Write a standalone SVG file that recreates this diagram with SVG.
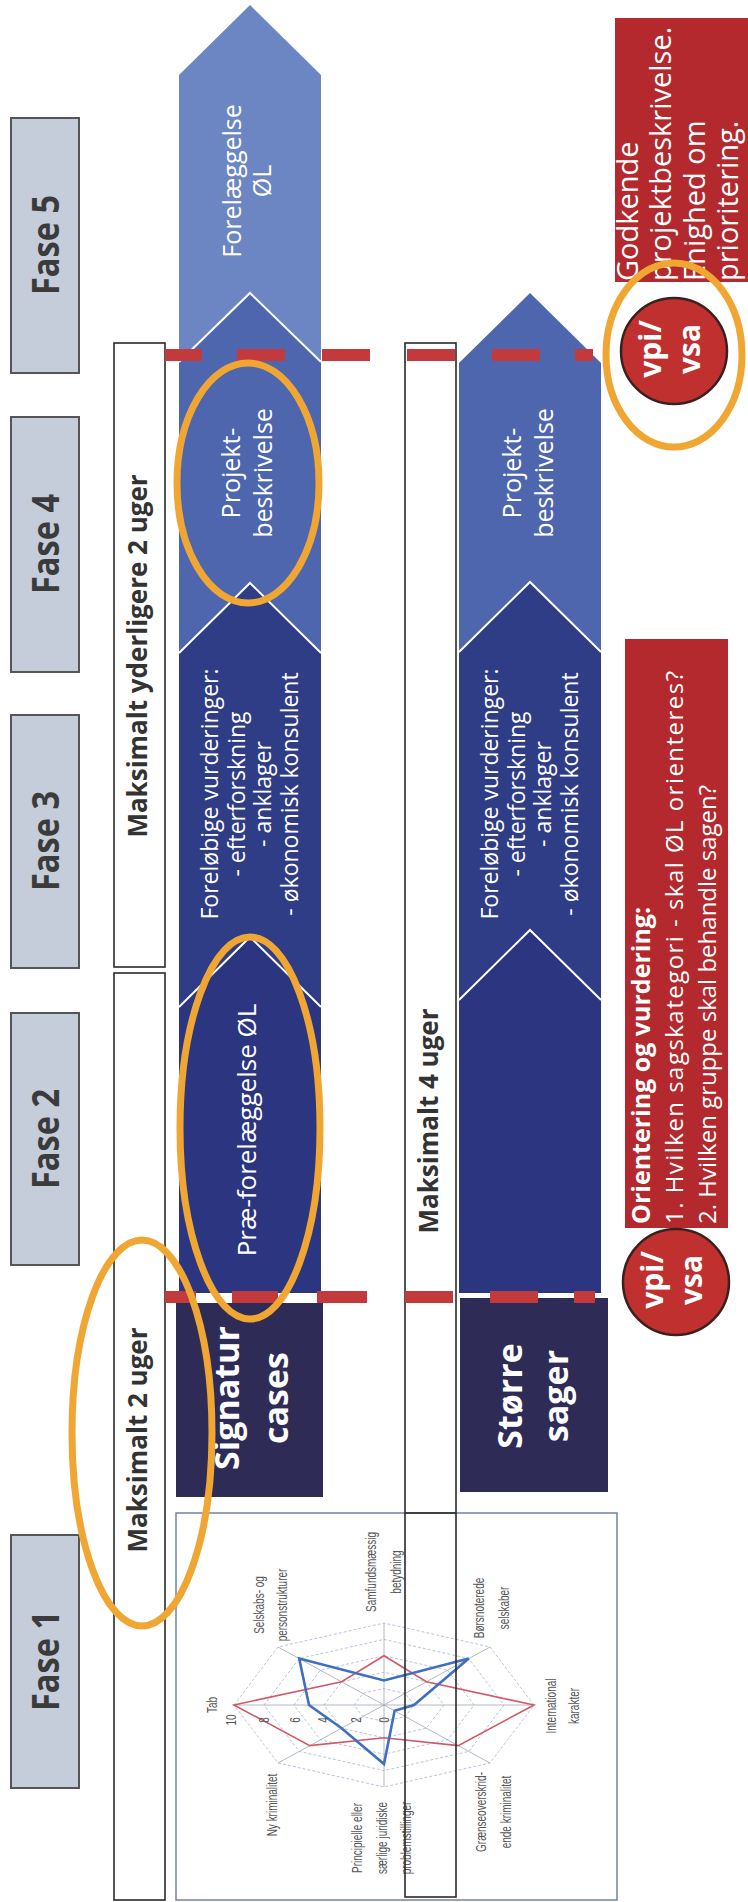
<svg xmlns="http://www.w3.org/2000/svg" width="748" height="1902" viewBox="0 0 748 1902">
<style>
text{font-family:'Open Sans','Liberation Sans',sans-serif}
.fase rect{fill:#c5ccda;stroke:#555;stroke-width:2}
.fase text{font-weight:bold;font-size:37px;fill:#3b3b3b;text-anchor:middle}
.lanebox{fill:#fff;stroke:#2a2a2a;stroke-width:1.6}
.lt{font-weight:bold;font-size:26px;fill:#333;text-anchor:middle}
.w{fill:#fff}
.c{text-anchor:middle}
.edge{fill:none;stroke:#fff;stroke-width:2}
.dash{fill:#c23a3c}
.orange{fill:none;stroke:#f0a632;stroke-width:7}
.redbox{fill:#b3292d}
.vc{fill:#c0302f;stroke:#3b2020;stroke-width:2.5}
.vt{font-weight:bold;font-size:30px;fill:#fff;text-anchor:middle}
.grid{fill:none;stroke:#b0bcd8;stroke-width:0.9;stroke-dasharray:3 2}
.spoke{stroke:#a0a8b8;stroke-width:0.8}
.cl{font-family:'Liberation Sans',Arial,sans-serif;font-size:10px;fill:#555;text-anchor:middle}
</style>

<g id="fase5" class="fase"><rect x="11" y="118" width="68" height="255"/><text textLength="100" lengthAdjust="spacingAndGlyphs" transform="translate(59,245) rotate(-90)">Fase 5</text></g>
<g id="fase4" class="fase"><rect x="11" y="417" width="68" height="255"/><text textLength="100" lengthAdjust="spacingAndGlyphs" transform="translate(59,544) rotate(-90)">Fase 4</text></g>
<g id="fase3" class="fase"><rect x="11" y="715" width="68" height="253"/><text textLength="100" lengthAdjust="spacingAndGlyphs" transform="translate(59,841) rotate(-90)">Fase 3</text></g>
<g id="fase2" class="fase"><rect x="11" y="1013" width="68" height="252"/><text textLength="100" lengthAdjust="spacingAndGlyphs" transform="translate(59,1139) rotate(-90)">Fase 2</text></g>
<g id="fase1" class="fase"><rect x="11" y="1535" width="68" height="253"/><text textLength="100" lengthAdjust="spacingAndGlyphs" transform="translate(59,1661) rotate(-90)">Fase 1</text></g>

<g id="box-yderligere"><rect class="lanebox" x="114" y="343" width="51" height="624"/><text class="lt" transform="translate(147,656) rotate(-90)">Maksimalt yderligere 2 uger</text></g>
<g id="box-2uger"><rect class="lanebox" x="114" y="973" width="51" height="927"/><text class="lt" transform="translate(147,1440) rotate(-90)">Maksimalt  2 uger</text></g>
<g id="box-4uger"><rect class="lanebox" x="405" y="343" width="51" height="1554"/><text class="lt" transform="translate(438,1121) rotate(-90)">Maksimalt 4 uger</text></g>

<g id="lane-signatur">
<polygon points="179,75 250,5 321,75 321,365 179,365" fill="#6b86c3"/>
<polygon points="179,362 250,293 321,362 321,655 179,655" fill="#4d66ae"/>
<polyline class="edge" points="179,362 250,293 321,362"/>
<polygon points="179,653 250,583 321,653 321,1009 179,1009" fill="#2f3c86"/>
<polyline class="edge" points="179,653 250,583 321,653"/>
<polygon points="179,1007 250,937 321,1007 321,1293 179,1293" fill="#2c3580"/>
<polyline class="edge" points="179,1007 250,937 321,1007"/>
<text class="w c" font-size="25" transform="translate(241,181) rotate(-90)"><tspan x="0" y="0">Forelæggelse</tspan><tspan x="0" dy="30">ØL</tspan></text>
<text class="w c" font-size="25" transform="translate(240,473) rotate(-90)"><tspan x="0" y="0">Projekt-</tspan><tspan x="0" dy="32">beskrivelse</tspan></text>
<text class="w c" font-size="23" transform="translate(218,794) rotate(-90)"><tspan x="0" y="0">Foreløbige vurderinger:</tspan><tspan x="0" dy="26.7">- efterforskning</tspan><tspan x="0" dy="26.7">- anklager</tspan><tspan x="0" dy="26.7">- økonomisk konsulent</tspan></text>
<text class="w c" font-size="26" transform="translate(256,1130) rotate(-90)">Præ-forelæggelse ØL</text>
</g>

<g id="lane-stoerre">
<polygon points="459,363 530,293 601,363 601,654 459,654" fill="#4d66ae"/>
<polygon points="459,652 530,582 601,652 601,1002 459,1002" fill="#2f3c86"/>
<polyline class="edge" points="459,652 530,582 601,652"/>
<polygon points="459,1000 530,930 601,1000 601,1293 459,1293" fill="#2c3580"/>
<polyline class="edge" points="459,1000 530,930 601,1000"/>
<text class="w c" font-size="25" transform="translate(521,473) rotate(-90)"><tspan x="0" y="0">Projekt-</tspan><tspan x="0" dy="32">beskrivelse</tspan></text>
<text class="w c" font-size="23" transform="translate(498,794) rotate(-90)"><tspan x="0" y="0">Foreløbige vurderinger:</tspan><tspan x="0" dy="26.7">- efterforskning</tspan><tspan x="0" dy="26.7">- anklager</tspan><tspan x="0" dy="26.7">- økonomisk konsulent</tspan></text>
</g>

<g id="signatur-cases"><rect x="176" y="1303" width="147" height="194" fill="#2e2c56"/><text class="w c" font-size="34" font-weight="bold" transform="translate(239,1398) rotate(-90)"><tspan x="0" y="0">Signatur</tspan><tspan x="0" dy="49">cases</tspan></text></g>
<g id="stoerre-sager"><rect x="460" y="1298" width="148" height="194" fill="#2e2c56"/><text class="w c" font-size="34" font-weight="bold" transform="translate(522,1396) rotate(-90)"><tspan x="0" y="0">Større</tspan><tspan x="0" dy="46">sager</tspan></text></g>

<g id="chart">
<rect x="176" y="1513" width="441" height="387" fill="#fff" stroke="#7282a6" stroke-width="1.5"/>
<g transform="translate(384,1705)">
<polygon class="grid" points="-30,0 -21.2,-11.6 0,-16.4 21.2,-11.6 30,0 21.2,11.6 0,16.4 -21.2,11.6"/>
<polygon class="grid" points="-60,0 -42.4,-23.2 0,-32.8 42.4,-23.2 60,0 42.4,23.2 0,32.8 -42.4,23.2"/>
<polygon class="grid" points="-90,0 -63.6,-34.8 0,-49.2 63.6,-34.8 90,0 63.6,34.8 0,49.2 -63.6,34.8"/>
<polygon class="grid" points="-120,0 -84.8,-46.4 0,-65.6 84.8,-46.4 120,0 84.8,46.4 0,65.6 -84.8,46.4"/>
<polygon class="grid" points="-150,0 -106,-58 0,-82 106,-58 150,0 106,58 0,82 -106,58"/>
<path class="spoke" d="M-150,0H150M0,-82V82M-106,-58L106,58M106,-58L-106,58"/>
<polygon points="-150,0 -42.4,-23.2 0,-49.2 42.4,-23.2 150,0 74.2,40.6 0,32.8 -74.2,40.6" fill="none" stroke="#d05a66" stroke-width="1.6"/>
<polygon points="-75,0 -84.8,-46.4 0,-24.6 84.8,-46.4 30,0 10.6,5.8 0,59 -42.4,23.2" fill="none" stroke="#3f6fc0" stroke-width="2.6"/>
<text class="cl" transform="translate(-167,0) rotate(-90) scale(1,1.45)">Tab</text>
<text class="cl" transform="translate(-120,-100) rotate(-90) scale(1,1.45)"><tspan x="0" y="0">Selskabs- og</tspan><tspan x="0" dy="16">personstrukturer</tspan></text>
<text class="cl" transform="translate(-8,-133) rotate(-90) scale(1,1.45)"><tspan x="0" y="0">Samfundsmæssig</tspan><tspan x="0" dy="17">betydning</tspan></text>
<text class="cl" transform="translate(100,-97) rotate(-90) scale(1,1.45)"><tspan x="0" y="0">Børsnoterede</tspan><tspan x="0" dy="17">selskaber</tspan></text>
<text class="cl" transform="translate(172,1) rotate(-90) scale(1,1.45)"><tspan x="0" y="0">International</tspan><tspan x="0" dy="16">karakter</tspan></text>
<text class="cl" transform="translate(102,107) rotate(-90) scale(1,1.45)"><tspan x="0" y="0">Grænseoverskrid-</tspan><tspan x="0" dy="17">ende kriminalitet</tspan></text>
<text class="cl" transform="translate(-22,133) rotate(-90) scale(1,1.45)"><tspan x="0" y="0">Principielle eller</tspan><tspan x="0" dy="17">særlige juridiske</tspan><tspan x="0" dy="17">problemstillinger</tspan></text>
<text class="cl" transform="translate(-107,100) rotate(-90) scale(1,1.45)">Ny kriminalitet</text>
<text class="cl" transform="translate(-148,15) rotate(-90) scale(1,1.45)">10</text>
<text class="cl" transform="translate(-115,15) rotate(-90) scale(1,1.45)">8</text>
<text class="cl" transform="translate(-84,15) rotate(-90) scale(1,1.45)">6</text>
<text class="cl" transform="translate(-56,15) rotate(-90) scale(1,1.45)">4</text>
<text class="cl" transform="translate(-23,15) rotate(-90) scale(1,1.45)">2</text>
<text class="cl" transform="translate(5,15) rotate(-90) scale(1,1.45)">0</text>
</g>
<rect x="405" y="1513" width="51" height="384" fill="none" stroke="#2a2a2a" stroke-width="1.6"/>
</g>

<g id="dashes">
<rect class="dash" x="165" y="349" width="37" height="12"/>
<rect class="dash" x="237" y="349" width="48" height="12"/>
<rect class="dash" x="322" y="349" width="48" height="12"/>
<rect class="dash" x="407" y="349" width="48" height="12"/>
<rect class="dash" x="492" y="349" width="48" height="12"/>
<rect class="dash" x="575" y="349" width="18" height="12"/>
<rect class="dash" x="165" y="1291" width="31" height="12"/>
<rect class="dash" x="232" y="1291" width="46" height="12"/>
<rect class="dash" x="317" y="1291" width="50" height="12"/>
<rect class="dash" x="405" y="1291" width="48" height="12"/>
<rect class="dash" x="490" y="1291" width="48" height="12"/>
<rect class="dash" x="574" y="1291" width="21" height="12"/>
</g>

<g id="godkende">
<rect class="redbox" x="615" y="18" width="133" height="264"/>
<text class="w" font-size="29" transform="translate(638,281) rotate(-90)"><tspan x="0" y="0">Godkende</tspan><tspan x="0" dy="33.3">projektbeskrivelse.</tspan><tspan x="0" dy="33.3">Enighed om</tspan><tspan x="0" dy="33.3">prioritering.</tspan></text>
</g>
<g id="vpi-top"><circle class="vc" cx="674" cy="351" r="53"/><text class="vt" transform="translate(661,349) rotate(-90)"><tspan x="0" y="0">vpi/</tspan><tspan x="0" dy="39">vsa</tspan></text></g>

<g id="orientering">
<rect class="redbox" x="625" y="639" width="103" height="589"/>
<text class="w" font-size="25" font-weight="bold" transform="translate(650,1224) rotate(-90)">Orientering og vurdering:</text>
<text class="w" font-size="24" textLength="553" transform="translate(683,1224) rotate(-90)">1. Hvilken sagskategori - skal ØL orienteres?</text>
<text class="w" font-size="24" transform="translate(716,1224) rotate(-90)">2. Hvilken gruppe skal behandle sagen?</text>
</g>
<g id="vpi-bottom"><circle class="vc" cx="676" cy="1282" r="53"/><text class="vt" transform="translate(663,1280) rotate(-90)"><tspan x="0" y="0">vpi/</tspan><tspan x="0" dy="39">vsa</tspan></text></g>

<g id="highlights">
<ellipse class="orange" cx="142" cy="1433" rx="70" ry="193"/>
<ellipse class="orange" cx="250" cy="1128" rx="70" ry="191"/>
<ellipse class="orange" cx="248" cy="483" rx="71" ry="120"/>
<ellipse class="orange" cx="674" cy="355" rx="68" ry="92"/>
</g>
</svg>
